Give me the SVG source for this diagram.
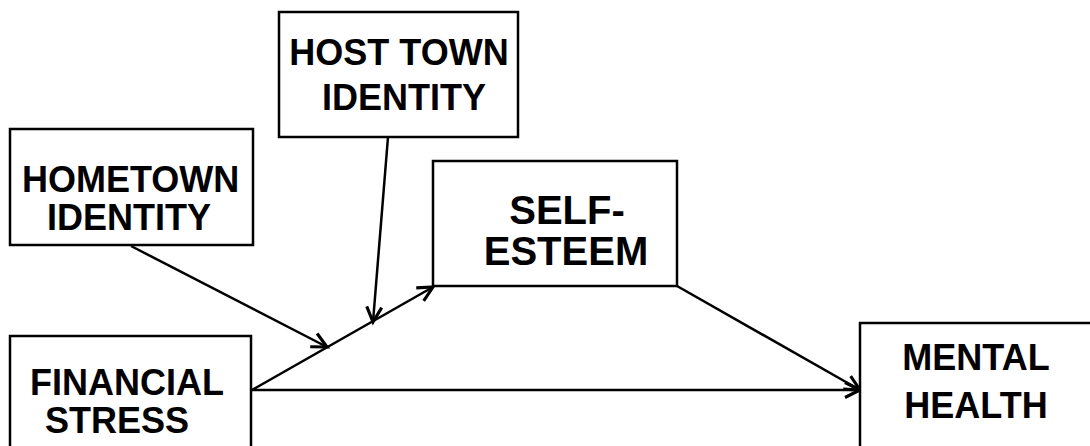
<svg xmlns="http://www.w3.org/2000/svg" width="1090" height="446" viewBox="0 0 1090 446">
<style>
.box{fill:#fff;stroke:#000;stroke-width:2.5}
.t{font-family:"Liberation Sans",Arial,sans-serif;font-weight:bold;font-size:36px;fill:#000}
.c{text-anchor:middle}
.e{stroke:#000;stroke-width:2.5;fill:none;marker-end:url(#arr)}
</style>
<defs>
<marker id="arr" markerUnits="userSpaceOnUse" markerWidth="20" markerHeight="20" refX="13" refY="7" orient="auto" viewBox="0 0 16 14">
<path d="M1,1 L13,7 L1,13" fill="none" stroke="#000" stroke-width="2.5"/>
</marker>
</defs>
<g id="connectors">
<line class="e" x1="252" y1="390" x2="433" y2="287"/>
<line class="e" x1="252" y1="390" x2="860" y2="390"/>
<line class="e" x1="677" y1="286" x2="860" y2="390"/>
<line class="e" x1="131" y1="246" x2="327" y2="347"/>
<line class="e" x1="388" y1="137" x2="373" y2="322"/>
</g>
<g id="hometown">
<rect class="box" x="10" y="129" width="243" height="116"/>
<text class="t" x="22" y="192">HOMETOWN</text>
<text class="t" x="47" y="230">IDENTITY</text>
</g>
<g id="hosttown">
<rect class="box" x="279" y="12" width="239" height="125"/>
<text class="t c" x="399" y="65">HOST TOWN</text>
<text class="t c" x="404" y="110">IDENTITY</text>
</g>
<g id="selfesteem">
<rect class="box" x="433" y="161" width="244" height="125"/>
<text class="t c" style="font-size:40px" x="567" y="224">SELF-</text>
<text class="t c" style="font-size:40px" x="566" y="265">ESTEEM</text>
</g>
<g id="financial">
<rect class="box" x="10" y="336" width="241" height="120"/>
<text class="t" x="30" y="395">FINANCIAL</text>
<text class="t" x="45" y="433">STRESS</text>
</g>
<g id="mental">
<rect class="box" x="860" y="323" width="240" height="140"/>
<text class="t c" x="976" y="370">MENTAL</text>
<text class="t c" x="976" y="418">HEALTH</text>
</g>
</svg>
